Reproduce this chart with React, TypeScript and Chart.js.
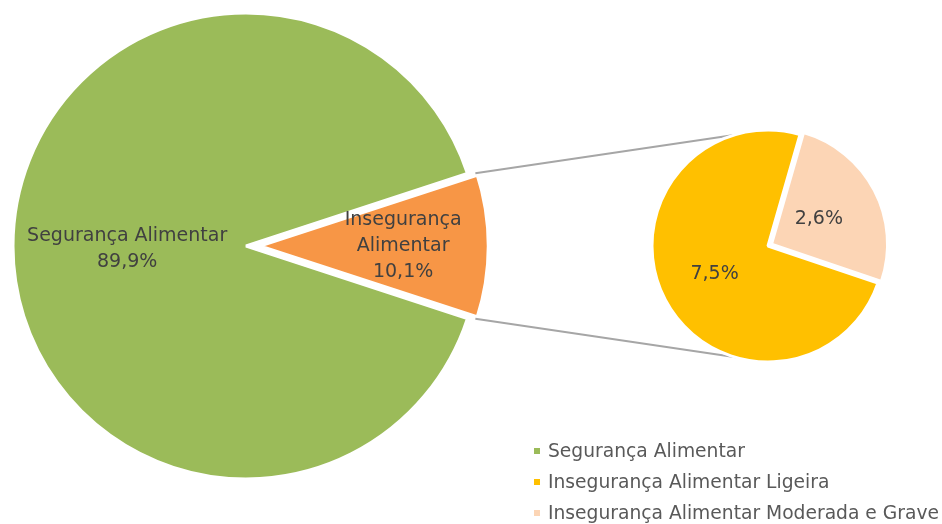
import React, { useEffect, useRef } from 'react';
import { Chart, registerables } from 'chart.js';

Chart.register(...registerables);

// ---- data ----
const mainLabels = ['Segurança Alimentar', 'Insegurança Alimentar'];
const mainValues = [89.9, 10.1];
const mainLabelLines = [['Segurança Alimentar'], ['Insegurança', 'Alimentar']];
const subLabels = ['Insegurança Alimentar Ligeira', 'Insegurança Alimentar Moderada e Grave'];
const subValues = [7.5, 2.6];
const legendLabels = ['Segurança Alimentar', 'Insegurança Alimentar Ligeira', 'Insegurança Alimentar Moderada e Grave'];

// ---- styles ----
const mainColors = ['#9BBB59', '#F79646'];
const subColors = ['#FFC000', '#FCD5B5'];
const legendColors = ['#9BBB59', '#FFC000', '#FCD5B5'];
const FONT = '"DejaVu Sans", sans-serif';
const LABEL_COLOR = '#404040';

const fmt = (v: number) => v.toFixed(1).replace('.', ',') + '%';

function arcGeom(arc: any) {
  const p = arc.getProps(['x', 'y', 'startAngle', 'endAngle', 'outerRadius'], true);
  const off = (arc.options.offset || 0) / 4;
  const mid = (p.startAngle + p.endAngle) / 2;
  return { ...p, mid, cx: p.x + Math.cos(mid) * off, cy: p.y + Math.sin(mid) * off };
}

function makeLabelPlugin(lines: string[][], fracs: number[], dy: number[]) {
  return {
    id: 'sliceLabels',
    afterDatasetsDraw(chart: any) {
      const ctx = chart.ctx;
      const meta = chart.getDatasetMeta(0);
      ctx.save();
      ctx.font = '19px ' + FONT;
      ctx.fillStyle = LABEL_COLOR;
      ctx.textAlign = 'center';
      ctx.textBaseline = 'middle';
      meta.data.forEach((arc: any, i: number) => {
        const g = arcGeom(arc);
        const x = g.cx + Math.cos(g.mid) * g.outerRadius * fracs[i];
        const y = g.cy + Math.sin(g.mid) * g.outerRadius * fracs[i] + dy[i];
        const ls = lines[i];
        const lh = 26;
        ls.forEach((t, j) => ctx.fillText(t, x, y + (j - (ls.length - 1) / 2) * lh));
      });
      ctx.restore();
    },
  };
}

export default function App() {
  const mainRef = useRef<HTMLCanvasElement>(null);
  const subRef = useRef<HTMLCanvasElement>(null);

  useEffect(() => {
    const total = mainValues.reduce((a, b) => a + b, 0);
    const mainRotation = 90 + (360 * mainValues[1]) / 2 / total;

    const subChart = new Chart(subRef.current!, {
      type: 'pie',
      data: {
        labels: subLabels,
        datasets: [
          {
            data: subValues,
            backgroundColor: subColors,
            borderColor: '#FFFFFF',
            borderWidth: 3,
            hoverBorderWidth: 3,
            hoverOffset: 0,
            offset: [0, 16],
          },
        ],
      },
      options: {
        responsive: false,
        animation: false,
        events: [],
        rotation: 108.7,
        radius: 116,
        layout: { padding: { left: 594, right: 0, top: 0, bottom: 32 } },
        plugins: { legend: { display: false }, tooltip: { enabled: false } },
      },
      plugins: [
        makeLabelPlugin(
          subValues.map((v) => [fmt(v)]),
          [0.52, 0.46],
          [0, 0]
        ),
      ],
    });

    const connector = {
      id: 'connector',
      afterDatasetsDraw(chart: any) {
        const ctx = chart.ctx;
        const arc = chart.getDatasetMeta(0).data[1];
        const g = arcGeom(arc);
        const small = arcGeom(subChart.getDatasetMeta(0).data[0]);
        const sx = small.x;
        const sy = small.y;
        const sr = small.outerRadius;
        ctx.save();
        ctx.strokeStyle = '#A6A6A6';
        ctx.lineWidth = 2;
        ctx.beginPath();
        ctx.moveTo(g.cx + Math.cos(g.startAngle) * g.outerRadius, g.cy + Math.sin(g.startAngle) * g.outerRadius);
        ctx.lineTo(sx, sy - sr);
        ctx.moveTo(g.cx + Math.cos(g.endAngle) * g.outerRadius, g.cy + Math.sin(g.endAngle) * g.outerRadius);
        ctx.lineTo(sx, sy + sr);
        ctx.stroke();
        ctx.restore();
      },
    };

    const mainChart = new Chart(mainRef.current!, {
      type: 'pie',
      data: {
        labels: mainLabels,
        datasets: [
          {
            data: mainValues,
            backgroundColor: mainColors,
            borderColor: '#FFFFFF',
            borderWidth: [3, 7],
            hoverBorderWidth: 3,
            hoverOffset: 0,
            offset: [0, 32],
          },
        ],
      },
      options: {
        responsive: false,
        animation: false,
        events: [],
        rotation: mainRotation,
        radius: 233,
        layout: { padding: { left: 0, right: 450, top: 0, bottom: 32 } },
        plugins: { legend: { display: false }, tooltip: { enabled: false } },
      },
      plugins: [
        connector,
        makeLabelPlugin(
          mainLabelLines.map((l, i) => [...l, fmt(mainValues[i])]),
          [0.51, 0.64],
          [3, 0]
        ),
      ],
    });

    return () => {
      mainChart.destroy();
      subChart.destroy();
    };
  }, []);

  return (
    <div style={{ position: 'fixed', left: 0, top: 0, width: 942, height: 524, background: '#FFFFFF', overflow: 'hidden' }}>
      <canvas ref={mainRef} width={942} height={524} style={{ position: 'absolute', left: 0, top: 0 }} />
      <canvas ref={subRef} width={942} height={524} style={{ position: 'absolute', left: 0, top: 0 }} />
      <div style={{ position: 'absolute', left: 534, top: 435, fontFamily: FONT, fontSize: 18.7, color: '#595959' }}>
        {legendLabels.map((l, i) => (
          <div key={l} style={{ height: 31, lineHeight: '31px', whiteSpace: 'nowrap', display: 'flex', alignItems: 'center' }}>
            <span style={{ display: 'inline-block', width: 6, height: 6, background: legendColors[i], marginRight: 8 }} />
            <span>{l}</span>
          </div>
        ))}
      </div>
    </div>
  );
}
